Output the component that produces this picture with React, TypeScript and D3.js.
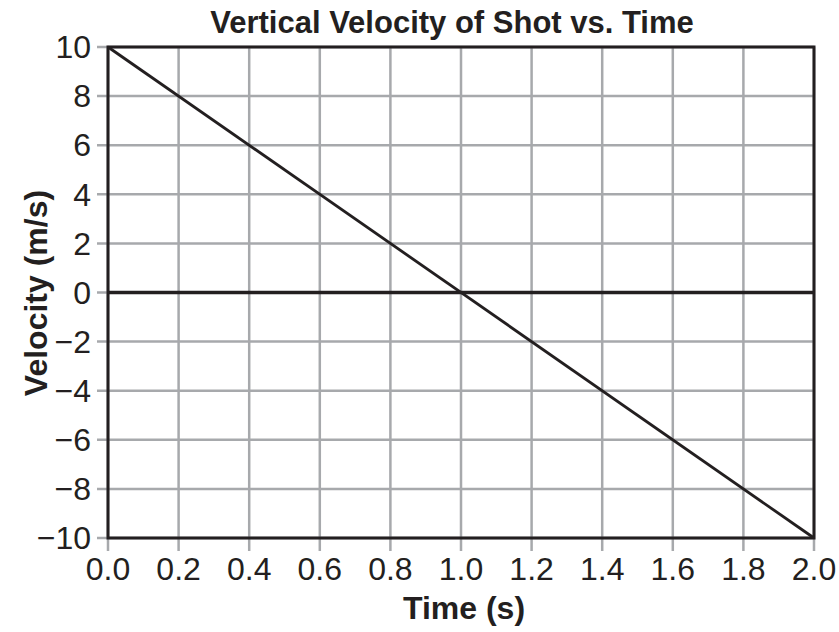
import React from "react";
import * as d3 from "d3";

const timeValues = [0, 2];
const velocityValues = [10, -10];
const xTicks = [0, 0.2, 0.4, 0.6, 0.8, 1.0, 1.2, 1.4, 1.6, 1.8, 2.0];
const yTicks = [-10, -8, -6, -4, -2, 0, 2, 4, 6, 8, 10];
const title = "Vertical Velocity of Shot vs. Time";
const xTitle = "Time (s)";
const yTitle = "Velocity (m/s)";

const W = 839;
const H = 632;
const left = 108;
const right = 814;
const top = 47;
const bottom = 538;
const ink = "#231f20";
const grey = "#a7a9ac";
const font = "Liberation Sans, Arial, Helvetica, sans-serif";

export default function App() {
  const x = d3.scaleLinear().domain([0, 2]).range([left, right]);
  const y = d3.scaleLinear().domain([-10, 10]).range([bottom, top]);
  const line = d3
    .line<number>()
    .x((_, i) => x(timeValues[i]))
    .y((d) => y(d));
  const fmtY = (v: number) => (v < 0 ? "\u2212" + Math.abs(v) : String(v));
  return (
    <svg
      width={W}
      height={H}
      style={{ position: "absolute", left: 0, top: 0, background: "#fff" }}
      fontFamily={font}
    >
      <rect x={0} y={0} width={W} height={H} fill="#fff" />
      {xTicks.map((t) => (
        <line
          key={"gx" + t}
          x1={x(t)}
          x2={x(t)}
          y1={top}
          y2={bottom + 13}
          stroke={grey}
          strokeWidth={2.5}
        />
      ))}
      {yTicks.map((t) => (
        <line
          key={"gy" + t}
          x1={left - 11}
          x2={right}
          y1={y(t)}
          y2={y(t)}
          stroke={grey}
          strokeWidth={2.5}
        />
      ))}
      <line x1={left} x2={right} y1={y(0)} y2={y(0)} stroke={ink} strokeWidth={3.5} />
      <rect
        x={left}
        y={top}
        width={right - left}
        height={bottom - top}
        fill="none"
        stroke={ink}
        strokeWidth={3}
      />
      <path d={line(velocityValues) || ""} fill="none" stroke={ink} strokeWidth={2.8} />
      {yTicks.map((t) => (
        <text
          key={"ly" + t}
          x={91}
          y={y(t)}
          dy="0.35em"
          textAnchor="end"
          fontSize={32}
          fill={ink}
        >
          {fmtY(t)}
        </text>
      ))}
      {xTicks.map((t) => (
        <text
          key={"lx" + t}
          x={x(t)}
          y={580}
          textAnchor="middle"
          fontSize={32}
          fill={ink}
        >
          {t.toFixed(1)}
        </text>
      ))}
      <text x={452} y={33} textAnchor="middle" fontSize={31} fontWeight="bold" fill={ink}>
        {title}
      </text>
      <text x={464} y={619} textAnchor="middle" fontSize={32} fontWeight="bold" fill={ink}>
        {xTitle}
      </text>
      <text
        transform={`translate(47, 293) rotate(-90)`}
        textAnchor="middle"
        fontSize={32}
        fontWeight="bold"
        fill={ink}
      >
        {yTitle}
      </text>
    </svg>
  );
}
